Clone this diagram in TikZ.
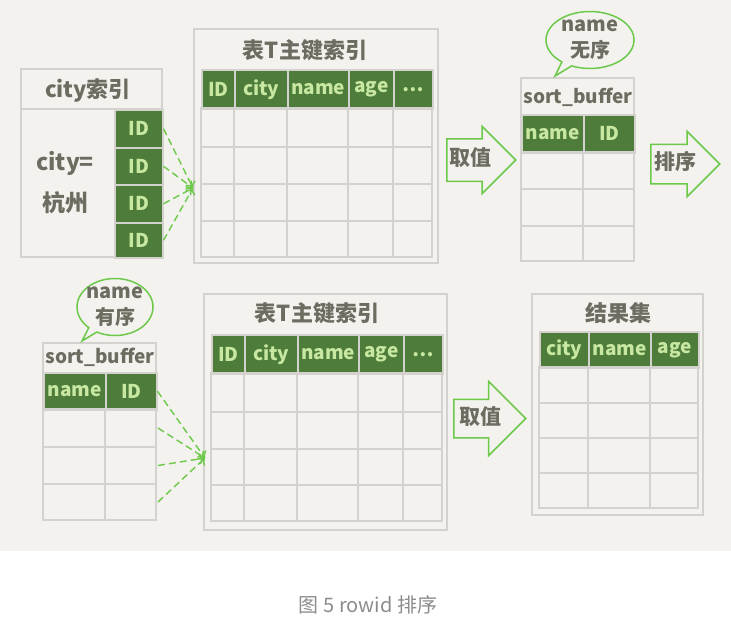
\documentclass[tikz,border=0pt]{standalone}
\usepackage{fontspec}
\setmainfont{Noto Sans CJK SC}
\usetikzlibrary{shapes.arrows,shapes.callouts,arrows.meta}
\definecolor{bg}{HTML}{F3F2EE}
\definecolor{hdgreen}{HTML}{4E7D3B}
\definecolor{hdtext}{HTML}{C8E8A2}
\definecolor{linegray}{HTML}{D3D2CE}
\definecolor{inkgray}{HTML}{6E6B60}
\definecolor{outgreen}{HTML}{6CC94A}
\definecolor{capgray}{HTML}{8C8C8C}
\tikzset{box/.style={draw=linegray, line width=2pt}}
\tikzset{cell/.style={draw=linegray, line width=1.5pt}}
\tikzset{hcell/.style={fill=hdgreen, draw=linegray, line width=1.5pt, text=hdtext, font=\fontsize{19}{19}\selectfont\bfseries, inner sep=0pt, anchor=north west}}
\tikzset{title/.style={text=inkgray, font=\fontsize{22}{24}\selectfont\bfseries, inner sep=0pt}}
\tikzset{bigarrow/.style={single arrow, draw=outgreen, fill=bg, line width=1.5pt, text=inkgray, font=\fontsize{21}{22}\selectfont\bfseries, text height=15pt, text depth=4pt, inner xsep=2pt, anchor=tail}}
\tikzset{bubble/.style={ellipse callout, draw=outgreen, fill=bg, line width=1.5pt}}
\tikzset{arrow/.style={-{To[length=6pt,width=11pt]}, draw=outgreen, dash pattern=on 7pt off 4pt, line width=1.4pt}}

\begin{document}
\begin{tikzpicture}[x=1pt, y=-1pt]
  \fill[white] (0,0) rectangle (731,641);
  \fill[bg] (0,0) rectangle (731,551);
  \useasboundingbox (0,0) rectangle (731,641);

  % city index
  \draw[box] (21,69) rectangle (162,257);
  \draw[box] (21,109) -- (162,109);
  \node[title] (cityidx) at (88,90) {city索引};
  \node[title, font=\fontsize{23}{24}\selectfont\bfseries] (cityeq) at (65,163) {city=};
  \node[title, font=\fontsize{23}{24}\selectfont\bfseries] (hz) at (65,203) {杭州};
  \foreach \ya/\yb [count=\i] in {109/147,147/184,184/222,222/257}
    \node[hcell, minimum width=48pt, minimum height={(\yb-\ya)*1pt}] (id\i) at (114,\ya) {ID};

  % table T, top
  \draw[box] (194,29) rectangle (438,263);
  \node[title] (t1title) at (305,50) {表T主键索引};
  \foreach \xa/\xb/\lab [count=\i] in {201/234/ID,234/287/city,287/348/name,348/393/age,393/432/\dots}
    \node[hcell, minimum width={(\xb-\xa)*1pt}, minimum height=39pt] (t1h\i) at (\xa,69) {\lab};
  \foreach \ya/\yb in {108/147,147/184,184/221,221/257}
    \foreach \xa/\xb in {201/234,234/287,287/348,348/393,393/432}
      \draw[cell] (\xa,\ya) rectangle (\xb,\yb);
  \coordinate (t1in) at (193,188);
  \foreach \i in {1,...,4}
    \draw[arrow] (id\i.east) -- (t1in);

  \node[bigarrow, inner ysep=11pt, single arrow head extend=12.5pt, minimum height=69pt] (get1) at (446,160) {取值};

  % sort_buffer, top
  \draw[box] (521,78) rectangle (634,261);
  \node[title, font=\fontsize{19}{20}\selectfont\bfseries] (sb1title) at (578,97) {sort\_buffer};
  \node[hcell, minimum width=62pt, minimum height=38pt] (sb1name) at (521,114) {name};
  \node[hcell, minimum width=51pt, minimum height=38pt] (sb1id) at (583,114) {ID};
  \foreach \ya/\yb in {152/189,189/226,226/261}
    \foreach \xa/\xb in {521/583,583/634}
      \draw[cell] (\xa,\ya) rectangle (\xb,\yb);
  \coordinate (sb1tip) at (555,76);
  \node[bubble, minimum width=88pt, minimum height=57pt, callout absolute pointer={(sb1tip)}] (bub1) at (590,40) {};
  \node[title, font=\fontsize{20}{26}\selectfont\bfseries, align=center] (bub1txt) at (bub1.center) {name\\无序};

  \node[bigarrow, inner ysep=9.5pt, single arrow head extend=13pt, minimum height=69pt] (sort1) at (650,164) {排序};

  % sort_buffer, bottom
  \draw[box] (43,343) rectangle (156,520);
  \node[title, font=\fontsize{19}{20}\selectfont\bfseries] (sb2title) at (100,357) {sort\_buffer};
  \node[hcell, minimum width=62pt, minimum height=37pt] (sb2name) at (43,372) {name};
  \node[hcell, minimum width=51pt, minimum height=37pt] (sb2id) at (105,372) {ID};
  \foreach \ya/\yb [count=\i] in {409/447,447/484,484/520}{
    \foreach \xa/\xb in {43/105,105/156}
      \draw[cell] (\xa,\ya) rectangle (\xb,\yb);
    \coordinate (sb2r\i) at (158,{(\ya+\yb)/2});
  }
  \coordinate (sb2tip) at (82,341);
  \node[bubble, minimum width=76pt, minimum height=57pt, callout absolute pointer={(sb2tip)}] (bub2) at (115,307) {};
  \node[title, font=\fontsize{20}{26}\selectfont\bfseries, align=center] (bub2txt) at (bub2.center) {name\\有序};

  % table T, bottom
  \draw[box] (204,294) rectangle (447,530);
  \node[title] (t2title) at (317,313) {表T主键索引};
  \foreach \xa/\xb/\lab [count=\i] in {211/244/ID,244/297/city,297/358/name,358/403/age,403/442/\dots}
    \node[hcell, minimum width={(\xb-\xa)*1pt}, minimum height=39pt] (t2h\i) at (\xa,334) {\lab};
  \foreach \ya/\yb in {373/412,412/449,449/485,485/521}
    \foreach \xa/\xb in {211/244,244/297,297/358,358/403,403/442}
      \draw[cell] (\xa,\ya) rectangle (\xb,\yb);
  \coordinate (t2in) at (205,458);
  \draw[arrow] (sb2id.east) -- (t2in);
  \foreach \i in {1,2,3}
    \draw[arrow] (sb2r\i) -- (t2in);

  \node[bigarrow, inner ysep=9pt, single arrow head extend=18pt, minimum height=72pt] (get2) at (453,418.5) {取值};

  % result set
  \draw[box] (532,294) rectangle (703,515);
  \node[title] (rstitle) at (618,313) {结果集};
  \foreach \xa/\xb/\lab [count=\i] in {539/588/city,588/650/name,650/698/age}
    \node[hcell, minimum width={(\xb-\xa)*1pt}, minimum height=36pt] (rsh\i) at (\xa,331) {\lab};
  \foreach \ya/\yb in {367/403,403/438,438/473,473/508}
    \foreach \xa/\xb in {539/588,588/650,650/698}
      \draw[cell] (\xa,\ya) rectangle (\xb,\yb);

  \node[text=capgray, font=\fontsize{20}{22}\selectfont] (caption) at (368,605) {图 5 rowid 排序};
\end{tikzpicture}
\end{document}
